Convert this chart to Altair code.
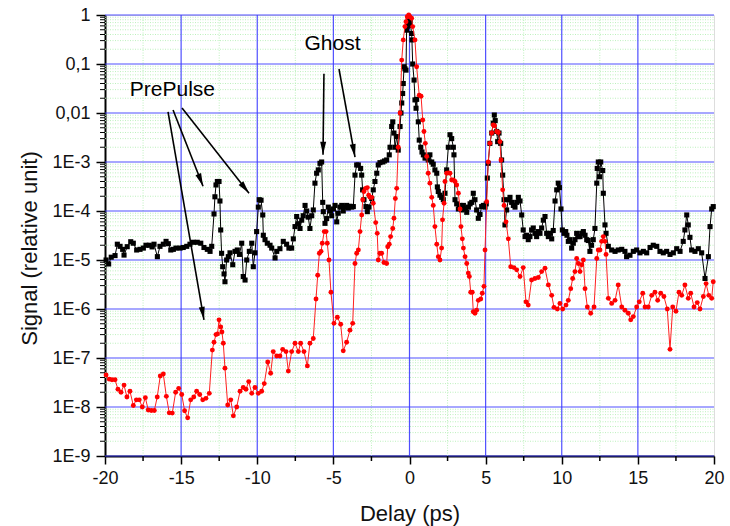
import math
import altair as alt
import pandas as pd

# ---------------- data ----------------
black_x = [-19.93, -19.76, -19.59, -19.34, -19.19, -19.01, -18.84, -18.75, -18.54, -18.31,
           -18.14, -17.92, -17.70, -17.48, -17.31, -17.09, -16.91, -16.78, -16.56, -16.39,
           -16.17, -15.99, -15.84, -15.68, -15.51, -15.34, -15.07, -14.86, -14.63, -14.42,
           -14.20, -13.94, -13.71, -13.50, -13.28, -13.10, -12.99, -12.84, -12.78, -12.71,
           -12.62, -12.51, -12.45, -12.40, -12.34, -12.27, -12.18, -12.12, -12.01, -11.90,
           -11.79, -11.61, -11.46, -11.31, -11.17, -11.02, -10.92, -10.80, -10.69, -10.52,
           -10.36, -10.26, -10.15, -10.04, -9.93, -9.87, -9.75, -9.64, -9.60, -9.49,
           -9.34, -9.16, -9.05, -8.83, -8.72, -8.51, -8.29, -8.07, -7.92, -7.74,
           -7.63, -7.52, -7.41, -7.30, -7.19, -7.08, -6.98, -6.86, -6.75, -6.65,
           -6.54, -6.42, -6.32, -6.21, -6.10, -5.99, -5.88, -5.77, -5.70, -5.66,
           -5.55, -5.44, -5.33, -5.22, -5.11, -5.01, -4.89, -4.78, -4.68, -4.57,
           -4.45, -4.35, -4.24, -4.13, -4.02, -3.91, -3.80, -3.69, -3.58, -3.47,
           -3.36, -3.21, -3.14, -3.08, -2.99, -2.86, -2.77, -2.66, -2.48, -2.38,
           -2.27, -2.15, -2.05, -1.94, -1.76, -1.64, -1.50, -1.33, -1.28, -1.17,
           -1.10, -1.02, -0.95, -0.84, -0.74, -0.62, -0.56, -0.51, -0.45, -0.41,
           -0.36, -0.30, -0.23, -0.19, -0.15, -0.08, -0.01, 0.05, 0.14, 0.16,
           0.21, 0.30, 0.36, 0.43, 0.47, 0.58, 0.64, 0.74, 0.82, 0.91,
           1.02, 1.13, 1.23, 1.34, 1.46, 1.56, 1.67, 1.79, 1.83, 1.89,
           2.00, 2.11, 2.22, 2.33, 2.44, 2.55, 2.66, 2.77, 2.88, 2.92,
           2.99, 3.10, 3.21, 3.32, 3.43, 3.54, 3.65, 3.76, 3.87, 3.98,
           4.09, 4.19, 4.30, 4.41, 4.52, 4.63, 4.74, 4.85, 4.96, 5.04,
           5.11, 5.17, 5.28, 5.40, 5.50, 5.57, 5.63, 5.73, 5.79, 5.88,
           5.99, 6.05, 6.12, 6.21, 6.27, 6.38, 6.49, 6.60, 6.71, 6.82,
           6.93, 7.04, 7.15, 7.26, 7.37, 7.47, 7.59, 7.70, 7.80, 7.91,
           8.02, 8.13, 8.24, 8.35, 8.46, 8.57, 8.68, 8.79, 8.90, 9.01,
           9.12, 9.23, 9.34, 9.44, 9.56, 9.67, 9.77, 9.85, 9.95, 10.04,
           10.15, 10.26, 10.34, 10.43, 10.54, 10.65, 10.76, 10.87, 10.98, 11.09,
           11.20, 11.31, 11.42, 11.53, 11.64, 11.74, 11.85, 11.96, 12.07, 12.18,
           12.30, 12.33, 12.40, 12.48, 12.56, 12.69, 12.73, 12.84, 12.91, 13.06,
           13.28, 13.50, 13.71, 13.94, 14.15, 14.26, 14.48, 14.70, 14.92, 15.14,
           15.36, 15.58, 15.80, 16.01, 16.24, 16.45, 16.67, 16.89, 17.11, 17.33,
           17.55, 17.77, 17.98, 18.09, 18.21, 18.31, 18.42, 18.53, 18.75, 18.97,
           19.19, 19.41, 19.63, 19.74, 19.85, 19.95]
black_y = [1.0e-5, 8.3e-6, 1.14e-5, 1.23e-5, 2.1e-5, 1.9e-5, 1.65e-5, 1.26e-5, 1.87e-5, 2.36e-5,
           2.2e-5, 1.6e-5, 1.65e-5, 1.75e-5, 2.0e-5, 2.0e-5, 1.85e-5, 2.1e-5, 1.17e-5, 1.9e-5,
           2.1e-5, 2.4e-5, 2.15e-5, 1.6e-5, 1.65e-5, 1.75e-5, 1.75e-5, 1.8e-5, 1.9e-5, 2.1e-5,
           2.3e-5, 2.3e-5, 2.2e-5, 1.8e-5, 1.65e-5, 1.5e-5, 1.9e-5, 8.7e-5, 1.95e-4, 3.4e-4,
           4.0e-4, 4.0e-4, 1.6e-4, 4.1e-5, 1.37e-5, 7.3e-6, 5.2e-6, 3.6e-6, 1.0e-5, 1.17e-5,
           1.4e-5, 8.0e-6, 1.5e-5, 1.6e-5, 1.3e-5, 2.2e-5, 4.6e-6, 3.9e-6, 1.0e-5, 1.5e-5,
           2.2e-5, 7.3e-6, 1.4e-5, 3.8e-5, 1.2e-4, 1.7e-4, 1.66e-4, 8.3e-5, 3.2e-5, 2.6e-5,
           2.2e-5, 2.0e-5, 1.75e-5, 1.1e-5, 1.5e-5, 1.7e-5, 2.4e-5, 2.1e-5, 1.75e-5, 1.75e-5,
           2.7e-5, 4.8e-5, 7.7e-5, 5.5e-5, 4.4e-5, 6.5e-5, 8.0e-5, 1.3e-4, 1.0e-4, 7.5e-5,
           4.4e-5, 8.0e-5, 1.05e-4, 3.7e-4, 5.9e-4, 6.9e-4, 9.4e-4, 1.0e-3, 1.5e-4, 9.7e-5,
           5.6e-5, 7.0e-5, 1.2e-4, 1.0e-4, 8.0e-5, 1.1e-4, 1.3e-4, 6.0e-5, 9.0e-5, 1.2e-4,
           1.3e-4, 1.0e-4, 1.2e-4, 1.3e-4, 1.15e-4, 1.25e-4, 1.2e-4, 1.23e-4, 5.4e-4, 8.7e-4,
           8.7e-4, 7.4e-4, 5.4e-4, 2.7e-4, 1.7e-4, 1.23e-4, 9.7e-5, 1.2e-4, 1.8e-4, 2.7e-4,
           4.0e-4, 5.9e-4, 8.7e-4, 9.7e-4, 1.0e-3, 1.05e-3, 1.1e-3, 1.4e-3, 2.0e-3, 5.3e-3,
           6.6e-3, 3.9e-3, 2.0e-3, 3.3e-3, 1.75e-3, 5.3e-3, 1.0e-2, 1.6e-2, 2.5e-2, 4.0e-2,
           8.8e-2, 8.0e-2, 7.5e-2, 0.49, 0.58, 0.79, 0.62, 0.70, 0.42, 0.31,
           0.10, 4.7e-2, 1.85e-2, 1.25e-2, 1.9e-2, 6.6e-3, 2.8e-3, 2.0e-3, 1.6e-3, 1.4e-3,
           1.2e-3, 1.3e-3, 1.1e-3, 1.4e-3, 1.0e-3, 9.0e-4, 6.9e-4, 5.9e-4, 3.1e-4, 2.5e-4,
           2.1e-4, 1.9e-4, 1.7e-4, 2.3e-4, 6.9e-4, 2.0e-3, 3.6e-3, 3.0e-3, 2.0e-3, 1.4e-3,
           1.7e-4, 1.4e-4, 1.1e-4, 1.3e-4, 1.05e-4, 1.3e-4, 1.1e-4, 9.4e-5, 1.2e-4, 1.4e-4,
           1.5e-4, 2.3e-4, 1.7e-4, 1.05e-4, 7.1e-5, 8.5e-5, 1.23e-4, 1.3e-4, 1.2e-4, 1.4e-4,
           4.7e-4, 9.4e-4, 2.4e-3, 3.9e-3, 6.2e-3, 9.1e-3, 7.0e-3, 4.2e-3, 2.6e-3, 3.9e-3,
           2.4e-3, 1.1e-3, 5.4e-4, 1.7e-4, 5.2e-5, 1.05e-4, 1.7e-4, 1.9e-4, 1.5e-4, 1.3e-4,
           1.2e-4, 1.5e-4, 1.9e-4, 1.6e-4, 8.3e-5, 4.1e-5, 3.0e-5, 3.2e-5, 2.6e-5, 3.0e-5,
           4.1e-5, 4.5e-5, 3.5e-5, 3.0e-5, 3.8e-5, 3.5e-5, 4.5e-5, 6.5e-5, 7.7e-5, 3.5e-5,
           3.0e-5, 3.5e-5, 2.7e-5, 4.0e-5, 1.6e-4, 2.7e-4, 3.7e-4, 3.0e-4, 1.1e-4, 4.1e-5,
           3.5e-5, 3.8e-5, 3.2e-5, 2.4e-5, 2.6e-5, 1.75e-5, 2.2e-5, 2.6e-5, 3.5e-5, 3.0e-5,
           3.0e-5, 3.5e-5, 3.8e-5, 3.2e-5, 2.6e-5, 2.5e-5, 1.5e-5, 2.0e-5, 2.6e-5, 4.4e-5,
           3.7e-4, 7.4e-4, 1.0e-3, 5.0e-4, 1.0e-3, 6.7e-4, 2.3e-4, 5.2e-5, 3.5e-5, 1.9e-5,
           1.6e-5, 1.5e-5, 1.6e-5, 1.65e-5, 1.5e-5, 1.17e-5, 1.25e-5, 1.5e-5, 1.6e-5, 1.4e-5,
           1.5e-5, 1.4e-5, 1.8e-5, 2.0e-5, 1.9e-5, 1.5e-5, 1.4e-5, 1.5e-5, 1.3e-5, 1.4e-5,
           1.7e-5, 1.5e-5, 2.4e-5, 4.1e-5, 8.3e-5, 5.2e-5, 2.9e-5, 1.6e-5, 1.5e-5, 1.7e-5,
           1.4e-5, 4.2e-6, 1.17e-5, 4.8e-5, 1.1e-4, 1.23e-4]

red_x = [-19.93, -19.72, -19.54, -19.34, -19.15, -18.95, -18.75, -18.56, -18.36, -18.14,
         -17.94, -17.75, -17.55, -17.35, -17.16, -16.96, -16.76, -16.57, -16.37, -16.17,
         -15.97, -15.78, -15.58, -15.36, -15.16, -14.96, -14.77, -14.57, -14.37, -14.17,
         -13.98, -13.78, -13.58, -13.37, -13.15, -12.95, -12.84, -12.71, -12.61, -12.51,
         -12.40, -12.32, -12.23, -12.12, -11.94, -11.74, -11.57, -11.35, -11.13, -10.92,
         -10.74, -10.56, -10.36, -10.15, -9.93, -9.71, -9.54, -9.31, -9.12, -8.95,
         -8.72, -8.51, -8.33, -8.11, -7.96, -7.74, -7.52, -7.30, -7.15, -6.93,
         -6.71, -6.54, -6.32, -6.14, -6.03, -5.92, -5.81, -5.73, -5.60, -5.48,
         -5.40, -5.29, -5.16, -4.96, -4.74, -4.52, -4.35, -4.13, -3.91, -3.73,
         -3.58, -3.47, -3.36, -3.25, -3.14, -3.07, -2.99, -2.88, -2.77, -2.68,
         -2.60, -2.48, -2.38, -2.22, -2.12, -2.05, -1.94, -1.83, -1.68, -1.50,
         -1.43, -1.33, -1.24, -1.10, -1.02, -0.93, -0.84, -0.74, -0.62, -0.51,
         -0.41, -0.30, -0.23, -0.15, -0.05, 0.03, 0.14, 0.21, 0.36, 0.47,
         0.64, 0.76, 0.87, 0.95, 1.04, 1.13, 1.23, 1.34, 1.46, 1.56,
         1.67, 1.79, 1.89, 2.00, 2.11, 2.17, 2.27, 2.33, 2.44, 2.55,
         2.66, 2.77, 2.88, 2.99, 3.10, 3.21, 3.32, 3.38, 3.47, 3.54,
         3.65, 3.76, 3.86, 3.93, 4.02, 4.12, 4.19, 4.30, 4.41, 4.52,
         4.68, 4.78, 4.89, 4.96, 5.07, 5.17, 5.28, 5.40, 5.50, 5.59,
         5.73, 5.83, 5.94, 6.01, 6.12, 6.21, 6.34, 6.49, 6.65, 6.86,
         7.04, 7.26, 7.47, 7.65, 7.80, 8.02, 8.24, 8.46, 8.68, 8.90,
         9.12, 9.34, 9.49, 9.71, 9.88, 10.06, 10.28, 10.43, 10.59, 10.72,
         10.87, 10.98, 11.09, 11.20, 11.31, 11.42, 11.53, 11.68, 11.90, 12.12,
         12.30, 12.40, 12.51, 12.62, 12.73, 12.84, 12.91, 13.06, 13.28, 13.50,
         13.71, 13.94, 14.15, 14.37, 14.53, 14.70, 14.92, 15.09, 15.32, 15.47,
         15.68, 15.91, 16.12, 16.30, 16.50, 16.71, 16.93, 17.11, 17.29, 17.50,
         17.70, 17.88, 18.09, 18.31, 18.47, 18.69, 18.90, 19.08, 19.30, 19.48,
         19.66, 19.85, 19.95]
red_y = [4.5e-8, 3.7e-8, 3.6e-8, 3.6e-8, 2.3e-8, 2.0e-8, 2.8e-8, 1.6e-8, 2.1e-8, 1.07e-8,
         1.4e-8, 1.4e-8, 1.0e-8, 1.55e-8, 8.7e-9, 8.5e-9, 8.5e-9, 1.6e-8, 4.3e-8, 4.7e-8,
         1.65e-8, 7.6e-9, 7.5e-9, 2.0e-8, 2.4e-8, 1.8e-8, 8.4e-9, 6.0e-9, 1.4e-8, 1.6e-8,
         2.1e-8, 1.8e-8, 1.4e-8, 1.5e-8, 1.9e-8, 1.45e-7, 2.1e-7, 3.0e-7, 3.1e-7, 6.0e-7,
         4.3e-7, 3.4e-7, 2.0e-7, 6.2e-8, 1.1e-8, 1.4e-8, 6.6e-9, 1.0e-8, 2.1e-8, 2.5e-8,
         2.3e-8, 3.3e-8, 1.9e-8, 2.5e-8, 1.9e-8, 2.1e-8, 3.0e-8, 8.3e-8, 4.9e-8, 1.35e-7,
         1.1e-7, 1.1e-7, 1.5e-7, 1.35e-7, 5.4e-8, 1.35e-7, 2.0e-7, 1.35e-7, 2.0e-7, 1.35e-7,
         6.9e-8, 2.0e-7, 2.5e-7, 1.6e-6, 4.9e-6, 1.37e-5, 1.5e-5, 2.2e-5, 3.8e-5, 3.8e-5,
         2.2e-5, 1.0e-5, 2.2e-6, 5.1e-7, 6.8e-7, 4.9e-7, 1.4e-7, 2.1e-7, 3.7e-7, 5.1e-7,
         8.5e-6, 1.37e-5, 1.6e-5, 3.8e-5, 8.3e-5, 1.7e-4, 2.5e-4, 2.9e-4, 3.0e-4, 2.1e-4,
         1.9e-4, 1.9e-4, 1.44e-4, 5.8e-5, 3.5e-5, 1.0e-5, 1.37e-5, 1.37e-5, 8.9e-6, 8.5e-6,
         1.87e-5, 2.1e-5, 3.0e-5, 4.4e-5, 7.1e-5, 1.8e-4, 2.9e-4, 2.0e-3, 1.0e-2, 0.12,
         0.31, 0.58, 0.73, 0.92, 1.0, 0.92, 0.86, 0.58, 0.31, 8.8e-2,
         2.3e-2, 2.2e-2, 7.2e-3, 4.2e-3, 2.4e-3, 1.3e-3, 5.9e-4, 3.7e-4, 1.9e-4, 1.3e-4,
         4.8e-5, 2.1e-5, 1.17e-5, 1.0e-5, 1.75e-5, 6.6e-5, 1.44e-4, 4.0e-4, 5.9e-4, 6.0e-4,
         5.9e-4, 4.3e-4, 4.3e-4, 4.0e-4, 3.4e-4, 2.3e-4, 1.1e-4, 4.8e-5, 2.7e-5, 1.75e-5,
         1.17e-5, 8.5e-6, 5.4e-6, 4.6e-6, 2.2e-6, 2.2e-6, 8.8e-7, 8.2e-7, 9.4e-7, 1.5e-6,
         1.6e-6, 2.1e-6, 2.9e-6, 1.6e-5, 1.55e-4, 1.0e-3, 2.4e-3, 3.9e-3, 5.7e-3, 5.5e-3,
         4.2e-3, 4.0e-3, 2.6e-3, 1.1e-3, 2.7e-4, 1.3e-4, 6.0e-5, 2.7e-5, 7.3e-6, 7.0e-6,
         6.3e-6, 4.6e-6, 7.0e-6, 1.4e-6, 1.2e-6, 3.9e-6, 4.2e-6, 4.4e-6, 5.8e-6, 6.8e-6,
         3.1e-6, 1.9e-6, 1.08e-6, 1.0e-6, 1.3e-6, 1.0e-6, 1.2e-6, 1.5e-6, 2.6e-6, 4.2e-6,
         5.8e-6, 1.07e-5, 8.5e-6, 5.8e-6, 8.0e-6, 1.0e-5, 2.6e-6, 1.1e-6, 8.2e-7, 1.1e-6,
         1.07e-5, 1.6e-5, 1.6e-5, 2.4e-5, 3.0e-5, 2.4e-5, 1.3e-5, 1.65e-6, 1.3e-6, 1.5e-6,
         3.1e-6, 1.1e-6, 9.4e-7, 8.2e-7, 6.0e-7, 7.0e-7, 1.1e-6, 1.4e-6, 2.1e-6, 1.1e-6,
         1.1e-6, 1.9e-6, 2.2e-6, 1.5e-6, 2.1e-6, 1.8e-6, 1.0e-6, 1.5e-7, 1.1e-6, 9.0e-7,
         2.2e-6, 1.9e-6, 3.1e-6, 1.65e-6, 2.1e-6, 1.1e-6, 1.35e-6, 1.0e-6, 1.8e-6, 3.3e-6,
         1.9e-6, 1.65e-6, 3.6e-6]

x_ticks = [-20, -15, -10, -5, 0, 5, 10, 15, 20]
x_minor = [-17.5, -12.5, -7.5, -2.5, 2.5, 7.5, 12.5, 17.5]
y_ticks = [1e-9, 1e-8, 1e-7, 1e-6, 1e-5, 1e-4, 1e-3, 1e-2, 1e-1, 1]
y_labels = ["1E-9", "1E-8", "1E-7", "1E-6", "1E-5", "1E-4", "1E-3", "0,01", "0,1", "1"]

# annotations (data coordinates)
note_text = ["PrePulse", "Ghost"]
note_x = [-15.57, -5.06]
note_y = [0.0295, 0.257]
arrow_x1 = [-15.86, -15.53, -14.94, -5.62, -4.63]
arrow_y1 = [1.05e-2, 1.15e-2, 1.26e-2, 6.3e-2, 7.9e-2]
arrow_x2 = [-13.50, -13.56, -10.54, -5.68, -3.58]
arrow_y2 = [6.0e-7, 3.2e-4, 2.3e-4, 1.4e-3, 1.26e-3]

# ---------------- layout ----------------
W, H = 609, 441
FONT = "Liberation Sans"

xscale = alt.Scale(domain=[-20, 20], nice=False, zero=False)
yscale = alt.Scale(type="log", domain=[1e-9, 1], nice=False)

label_expr = "[" + ",".join("'%s'" % s for s in y_labels) + "][round(log(datum.value)/LN10)+9]"

xaxis = alt.Axis(values=x_ticks, labelExpr="datum.value + ''", title="Delay (ps)", grid=False,
                 tickSize=8, tickWidth=1.5,
                 tickColor="black", domainColor="black", domainWidth=2, labelFontSize=18,
                 labelFont=FONT, labelColor="#111", labelPadding=5, labelFlush=False,
                 titleFont=FONT, titleFontSize=22, titleFontWeight="normal", titleColor="#111",
                 titleX=W / 2, titleY=57, titleBaseline="middle", titleAlign="center")
yaxis = alt.Axis(values=y_ticks, labelExpr=label_expr, title="Signal (relative unit)", grid=False,
                 tickSize=9, tickWidth=1.5, tickColor="black", domainColor="black", domainWidth=2,
                 labelFontSize=18, labelFont=FONT, labelColor="#111", labelPadding=6,
                 labelFlush=False, titleFont=FONT, titleFontSize=22, titleFontWeight="normal",
                 titleColor="#111", titleX=-76, titleY=233, titleAngle=270,
                 titleAlign="center", titleBaseline="middle")

X = lambda f: alt.X(f, type="quantitative", scale=xscale, axis=xaxis)
Y = lambda f: alt.Y(f, type="quantitative", scale=yscale, axis=yaxis)

y_minor = [m * d for d in y_ticks[:-1] for m in range(2, 10)]
df_yminor = pd.DataFrame({"v": y_minor})
df_xminor = pd.DataFrame({"v": x_minor})
df_ymajor = pd.DataFrame({"v": y_ticks})
df_xmajor = pd.DataFrame({"v": x_ticks[1:-1]})

minor_h = alt.Chart(df_yminor).mark_rule(color="#bdf0bd", strokeWidth=1, strokeDash=[1, 1.5]).encode(
    y=Y("v"), x=alt.value(0), x2=alt.value(W))
minor_v = alt.Chart(df_xminor).mark_rule(color="#bdf0bd", strokeWidth=1, strokeDash=[1, 1.5]).encode(
    x=X("v"), y=alt.value(0), y2=alt.value(H))
major_h = alt.Chart(df_ymajor).mark_rule(color="#3c3cff", strokeWidth=1.2, opacity=0.9).encode(
    y=Y("v"), x=alt.value(0), x2=alt.value(W))
major_v = alt.Chart(df_xmajor).mark_rule(color="#3c3cff", strokeWidth=1.2, opacity=0.9).encode(
    x=X("v"), y=alt.value(0), y2=alt.value(H))
tick_y = alt.Chart(df_yminor).mark_rule(color="black", strokeWidth=1).encode(
    y=Y("v"), x=alt.value(-5), x2=alt.value(0))
tick_x = alt.Chart(df_xminor).mark_rule(color="black", strokeWidth=1.5).encode(
    x=X("v"), y=alt.value(H), y2=alt.value(H + 5))

df_b = pd.DataFrame({"x": black_x, "y": black_y})
df_r = pd.DataFrame({"x": red_x, "y": red_y})

b_line = alt.Chart(df_b).mark_line(color="black", strokeWidth=1).encode(x=X("x"), y=Y("y"))
b_pts = alt.Chart(df_b).mark_point(shape="square", filled=True, color="black", size=26, opacity=1).encode(
    x=X("x"), y=Y("y"))
r_line = alt.Chart(df_r).mark_line(color="#ff2020", strokeWidth=1).encode(x=X("x"), y=Y("y"))
r_pts = alt.Chart(df_r).mark_circle(color="#ff0000", size=24, opacity=1).encode(x=X("x"), y=Y("y"))

# arrows
def ang(i):
    dx = (arrow_x2[i] - arrow_x1[i]) / 40 * W
    dy = -(math.log10(arrow_y2[i]) - math.log10(arrow_y1[i])) / 9 * H
    return math.degrees(math.atan2(dx, -dy)) % 360

df_arr = pd.DataFrame({"x1": arrow_x1, "y1": arrow_y1, "x2": arrow_x2, "y2": arrow_y2,
                       "ang": [ang(i) for i in range(len(arrow_x1))]})
arr_lines = alt.Chart(df_arr).mark_rule(color="black", strokeWidth=1.6).encode(
    x=X("x1"), y=Y("y1"), x2="x2", y2="y2")
arr_heads = alt.Chart(df_arr).mark_point(shape="M0,0L0.6,2.6L-0.6,2.6Z", filled=True, color="black",
                                         size=100, opacity=1, strokeWidth=0).encode(
    x=X("x2"), y=Y("y2"), angle=alt.Angle("ang:Q", scale=None))

df_notes = pd.DataFrame({"t": note_text, "x": note_x, "y": note_y})
notes = alt.Chart(df_notes).mark_text(font=FONT, fontSize=21, color="black", align="center",
                                      baseline="middle").encode(x=X("x"), y=Y("y"), text="t:N")

chart = alt.layer(minor_h, minor_v, major_h, major_v, tick_y, tick_x,
                  b_line, b_pts, r_line, r_pts, arr_lines, arr_heads, notes).properties(
    width=W, height=H,
    autosize=alt.AutoSizeParams(type="none"),
    padding={"left": 105, "top": 15, "right": 16, "bottom": 70},
).configure_view(stroke=None).configure(background="white")

chart.save("out.html", embed_options={"renderer": "svg", "actions": False})
